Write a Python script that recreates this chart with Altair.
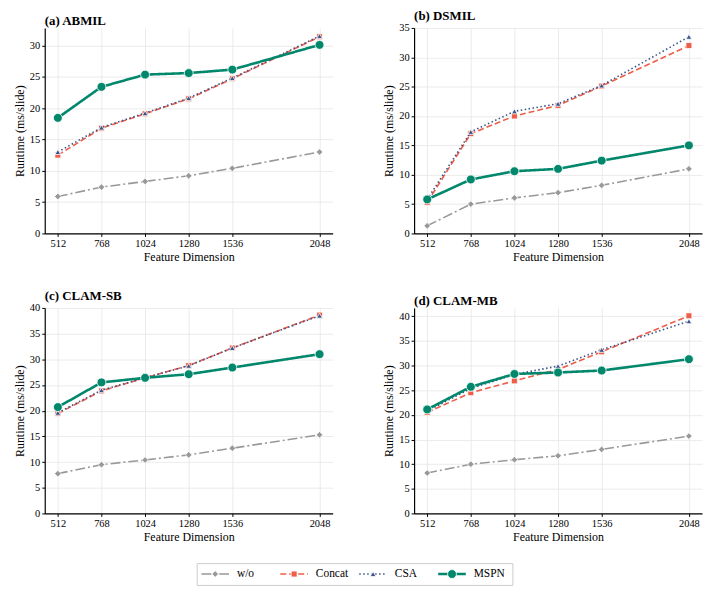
import altair as alt
import pandas as pd

dims = [512, 768, 1024, 1280, 1536, 2048]
series_names = ["w/o", "Concat", "CSA", "MSPN"]

abmil_wo = [5.9, 7.4, 8.3, 9.2, 10.4, 13.0]
abmil_concat = [12.5, 16.8, 19.1, 21.5, 24.7, 31.4]
abmil_csa = [13.0, 16.9, 19.2, 21.6, 24.8, 31.5]
abmil_mspn = [18.45, 23.4, 25.35, 25.6, 26.15, 30.1]

dsmil_wo = [1.3, 5.0, 6.05, 6.95, 8.2, 11.0]
dsmil_concat = [5.3, 17.0, 20.0, 21.8, 25.1, 32.0]
dsmil_csa = [5.8, 17.3, 20.8, 22.1, 25.2, 33.5]
dsmil_mspn = [5.8, 9.2, 10.6, 11.0, 12.4, 15.0]

clamsb_wo = [7.75, 9.5, 10.4, 11.4, 12.7, 15.3]
clamsb_concat = [19.45, 23.85, 26.4, 28.8, 32.2, 38.6]
clamsb_csa = [19.6, 24.0, 26.4, 28.75, 32.2, 38.5]
clamsb_mspn = [20.7, 25.5, 26.4, 27.1, 28.4, 31.0]

clammb_wo = [8.2, 10.0, 10.9, 11.7, 13.0, 15.7]
clammb_concat = [20.5, 24.5, 26.9, 29.2, 32.8, 40.1]
clammb_csa = [20.8, 25.35, 28.2, 29.9, 33.2, 39.0]
clammb_mspn = [21.1, 25.7, 28.3, 28.6, 29.0, 31.3]

panel_titles = ["(a) ABMIL", "(b) DSMIL", "(c) CLAM-SB", "(d) CLAM-MB"]
panel_values = [
    [abmil_wo, abmil_concat, abmil_csa, abmil_mspn],
    [dsmil_wo, dsmil_concat, dsmil_csa, dsmil_mspn],
    [clamsb_wo, clamsb_concat, clamsb_csa, clamsb_mspn],
    [clammb_wo, clammb_concat, clammb_csa, clammb_mspn],
]
y_max = [32.8, 35.0, 40.0, 41.7]
y_ticks = [list(range(0, 31, 5)), list(range(0, 36, 5)), list(range(0, 41, 5)), list(range(0, 41, 5))]

colors = ["#999999", "#EE5D48", "#3C5488", "#00876C"]
dashes = [[10, 3, 2, 3], [6, 3], [1.5, 2.5], [1, 0]]
widths = [1.6, 1.6, 1.6, 2.6]
shapes = ["diamond", "square", "triangle-up", "circle"]
sizes = [45, 36, 34, 80]

FONT = "Liberation Serif, Times New Roman, DejaVu Serif, serif"
W, H = 290, 207


def panel(title, values, ymax, yticks):
    rows = []
    for s, vals in zip(series_names, values):
        for d, v in zip(dims, vals):
            rows.append({"dim": d, "rt": v, "series": s})
    df = pd.DataFrame(rows)
    base = alt.Chart(df).encode(
        x=alt.X("dim:Q",
                scale=alt.Scale(domain=[435, 2125], nice=False, zero=False),
                axis=alt.Axis(values=dims, title="Feature Dimension", format="d", labelFlush=False)),
        y=alt.Y("rt:Q",
                scale=alt.Scale(domain=[0, ymax], nice=False, zero=True),
                axis=alt.Axis(values=yticks, title="Runtime (ms/slide)", format="d")),
    )
    layers = []
    for i, s in enumerate(series_names):
        sub = base.transform_filter(alt.datum.series == s)
        layers.append(sub.mark_line(color=colors[i], strokeDash=dashes[i], strokeWidth=widths[i]))
        layers.append(sub.mark_point(shape=shapes[i], size=sizes[i], filled=True, fill=colors[i],
                                     stroke="white", strokeWidth=0.8, opacity=1))
    return alt.layer(*layers).properties(
        width=W, height=H,
        title=alt.TitleParams(title, anchor="start", frame="group", font=FONT, fontSize=13,
                              fontWeight="bold", offset=0, color="black"),
    )


panels = [panel(t, v, m, yt) for t, v, m, yt in zip(panel_titles, panel_values, y_max, y_ticks)]

# legend
leg_df = pd.DataFrame({"label": series_names, "i": list(range(len(series_names)))})
leg_base = alt.Chart(leg_df).transform_calculate(
    x1="datum.i + 0.06", x2="datum.i + 0.41", xm="datum.i + 0.235", xt="datum.i + 0.51"
)
xs = alt.Scale(domain=[0, 4], nice=False, zero=False)
leg_layers = []
for i, s in enumerate(series_names):
    sub = leg_base.transform_filter(alt.datum.label == s)
    leg_layers.append(sub.mark_rule(color=colors[i], strokeDash=dashes[i], strokeWidth=widths[i]).encode(
        x=alt.X("x1:Q", scale=xs, axis=None), x2="x2:Q", y=alt.value(11)))
    leg_layers.append(sub.mark_point(shape=shapes[i], size=sizes[i], filled=True, fill=colors[i],
                                     stroke="white", strokeWidth=0.8, opacity=1).encode(
        x=alt.X("xm:Q", scale=xs, axis=None), y=alt.value(11)))
    leg_layers.append(sub.mark_text(align="left", baseline="middle", font=FONT, fontSize=11.5,
                                    color="black").encode(
        x=alt.X("xt:Q", scale=xs, axis=None), y=alt.value(11), text="label:N"))
legend = alt.layer(*leg_layers).properties(
    width=318, height=22, view=alt.ViewBackground(stroke="#cccccc", strokeWidth=1))

spacer = alt.Chart(pd.DataFrame({"a": [0]})).mark_point(opacity=0).encode(
    x=alt.value(0), y=alt.value(0)).properties(width=152, height=22)
legend_row = alt.hconcat(spacer, legend, spacing=0)

row1 = alt.hconcat(panels[0], panels[1], spacing=50)
row2 = alt.hconcat(panels[2], panels[3], spacing=50)
grid = alt.vconcat(row1, row2, spacing=27)
chart = alt.vconcat(grid, legend_row, spacing=17).properties(
    padding={"left": 5, "top": 0, "right": 3, "bottom": 0}
).configure_view(stroke=None).configure_axis(
    labelFont=FONT, titleFont=FONT, labelFontSize=10.5, titleFontSize=12,
    titleFontWeight="normal", labelColor="black", titleColor="black",
    domainColor="black", domainWidth=1.2, tickColor="black", tickSize=3,
    gridColor="#e6e6e6", gridWidth=0.8, labelPadding=2, titlePadding=3,
)

chart.save("out.html", embed_options={"renderer": "svg", "actions": False})
